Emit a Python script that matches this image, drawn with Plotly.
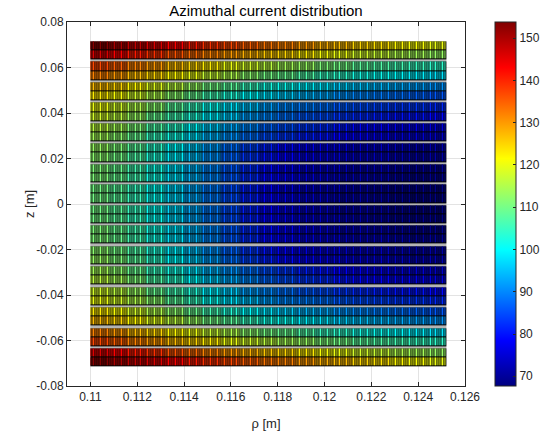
import numpy as np
import plotly.graph_objects as go

# ---------------- data ----------------
rho_inner = 0.110          # m
rho_outer = 0.1252         # m
n_turns = 152              # cells along rho
block = 8                  # fine cells per sampled value (0.8 mm blocks)
n_pancakes = 16
tape_w = 0.004             # m, one layer height
pancake_gap = 0.001        # m
z_bottom = -0.0715         # m

# Current values (top half, outermost layer first), sampled every 0.8 mm in rho
J_top = [
    [153, 150, 148, 146, 143, 141, 139, 137, 135, 133, 132, 130, 128, 127, 125, 124, 122, 121, 120],
    [146, 143, 141, 139, 136, 134, 132, 130, 128, 126, 125, 123, 121, 120, 118, 117, 115, 114, 113],
    [137, 135, 132, 130, 127, 125, 123, 120, 118, 116, 114, 113, 111, 110, 108, 107, 106, 105, 104],
    [132, 130, 127, 125, 122, 120, 117, 115, 112, 110, 109, 107, 105, 104, 102, 101, 100, 99, 98],
    [127, 125, 122, 119, 116, 113, 110, 108, 105, 102, 101, 99, 98, 96, 95, 94, 93, 92, 91],
    [123, 121, 118, 115, 112, 109, 106, 103, 100, 98, 96, 94, 93, 91, 90, 89, 88, 87, 86],
    [120, 118, 115, 112, 108, 105, 101, 98, 95, 92, 90, 89, 88, 86, 85, 84, 83, 83, 82],
    [118, 116, 113, 109, 106, 103, 99, 96, 92, 90, 88, 86, 85, 83, 82, 81, 80, 80, 79],
    [116, 114, 111, 107, 104, 100, 96, 93, 90, 87, 85, 83, 82, 80, 79, 78, 77, 77, 76],
    [114, 112, 109, 105, 102, 98, 94, 91, 88, 85, 83, 81, 80, 78, 77, 76, 75, 75, 74],
    [113, 111, 108, 104, 100, 96, 92, 88, 84, 81, 79, 77, 76, 75, 74, 74, 73, 72, 72],
    [112, 110, 107, 103, 99, 95, 91, 87, 83, 80, 78, 76, 75, 74, 73, 73, 72, 71, 71],
    [111, 109, 106, 102, 98, 94, 90, 86, 82, 79, 77, 75, 74, 73, 72, 72, 71, 70, 70],
    [111, 109, 106, 102, 98, 94, 90, 86, 82, 79, 77, 75, 74, 72, 72, 71, 70, 69, 69],
    [110, 108, 105, 101, 97, 93, 89, 85, 81, 78, 76, 74, 73, 72, 71, 70, 69, 69, 68.5],
    [110, 108, 105, 101, 97, 93, 89, 85, 81, 78, 76, 74, 73, 71, 71, 70, 69, 68, 68],
]

x_ticks = [0.11, 0.112, 0.114, 0.116, 0.118, 0.12, 0.122, 0.124, 0.126]
x_ticktext = ["0.11", "0.112", "0.114", "0.116", "0.118", "0.12", "0.122", "0.124", "0.126"]
y_ticks = [-0.08, -0.06, -0.04, -0.02, 0, 0.02, 0.04, 0.06, 0.08]
y_ticktext = ["-0.08", "-0.06", "-0.04", "-0.02", "0", "0.02", "0.04", "0.06", "0.08"]
cb_ticks = [70, 80, 90, 100, 110, 120, 130, 140, 150]
c_min, c_max = 67.7, 153.8

# ---------------- geometry ----------------
x_edges = np.linspace(rho_inner, rho_outer, n_turns + 1)

rows_bottom_to_top = J_top + J_top[::-1]
y_edges = []
z_rows = []
under_rows = []
for p in range(n_pancakes):
    b = z_bottom + p * (2 * tape_w + pancake_gap)
    if p > 0:
        z_rows.append([np.nan] * n_turns)      # gap between pancakes
        under_rows.append([1.0] * n_turns)
    y_edges += [b, b + tape_w, b + 2 * tape_w]
    for k in (0, 1):
        z_rows.append(list(np.repeat(rows_bottom_to_top[2 * p + k], block)))
        under_rows.append([0.0] * n_turns)

Z = np.array(z_rows, dtype=float)
U = np.array(under_rows, dtype=float)

jet = [[0, "rgb(0,0,128)"], [0.125, "rgb(0,0,255)"], [0.375, "rgb(0,255,255)"],
       [0.625, "rgb(255,255,0)"], [0.875, "rgb(255,0,0)"], [1, "rgb(128,0,0)"]]

fnt = "Liberation Sans, Arial, Helvetica"

fig = go.Figure()
fig.add_trace(go.Heatmap(x=x_edges, y=y_edges, z=U,
                         colorscale=[[0, "#000000"], [1, "#b4b4b4"]],
                         showscale=False, hoverinfo="skip", zmin=0, zmax=1))
fig.add_trace(go.Heatmap(x=x_edges, y=y_edges, z=Z, colorscale=jet,
                         zmin=c_min, zmax=c_max, xgap=1, ygap=1,
                         colorbar=dict(x=1.0754, xanchor="left", xpad=0, ypad=0,
                                       thickness=21,
                                       len=1, lenmode="fraction", y=0.5, yanchor="middle",
                                       outlinecolor="#262626", outlinewidth=1,
                                       tickvals=cb_ticks, ticks="inside", ticklen=3,
                                       tickcolor="#262626",
                                       tickfont=dict(family=fnt, size=12, color="#262626"))))

axis_common = dict(showline=True, linecolor="#262626", linewidth=1, mirror="ticks",
                   ticks="inside", ticklen=4, tickcolor="#262626",
                   showgrid=True, gridcolor="#e3e3e3", gridwidth=1, zeroline=False,
                   tickfont=dict(family=fnt, size=12, color="#262626"))

fig.update_layout(
    width=545, height=436,
    margin=dict(l=67, r=80, t=22, b=50, autoexpand=False),
    paper_bgcolor="white", plot_bgcolor="white",
    title=dict(text="Azimuthal current distribution", x=0.488, xanchor="center",
               y=0.976, yanchor="middle",
               font=dict(family=fnt, size=15, color="#000000")),
    xaxis=dict(range=[0.109, 0.126], tickvals=x_ticks, ticktext=x_ticktext,
               title=dict(text="ρ [m]",
                          font=dict(family=fnt, size=13, color="#262626")),
               **axis_common),
    yaxis=dict(range=[-0.08, 0.08], tickvals=y_ticks, ticktext=y_ticktext,
               **axis_common),
    annotations=[dict(text="z [m]", textangle=-90, xref="paper", yref="paper",
                      x=-0.0955, y=0.5, xanchor="center", yanchor="middle",
                      showarrow=False,
                      font=dict(family=fnt, size=13, color="#262626"))],
)

fig.write_html("out.html")
